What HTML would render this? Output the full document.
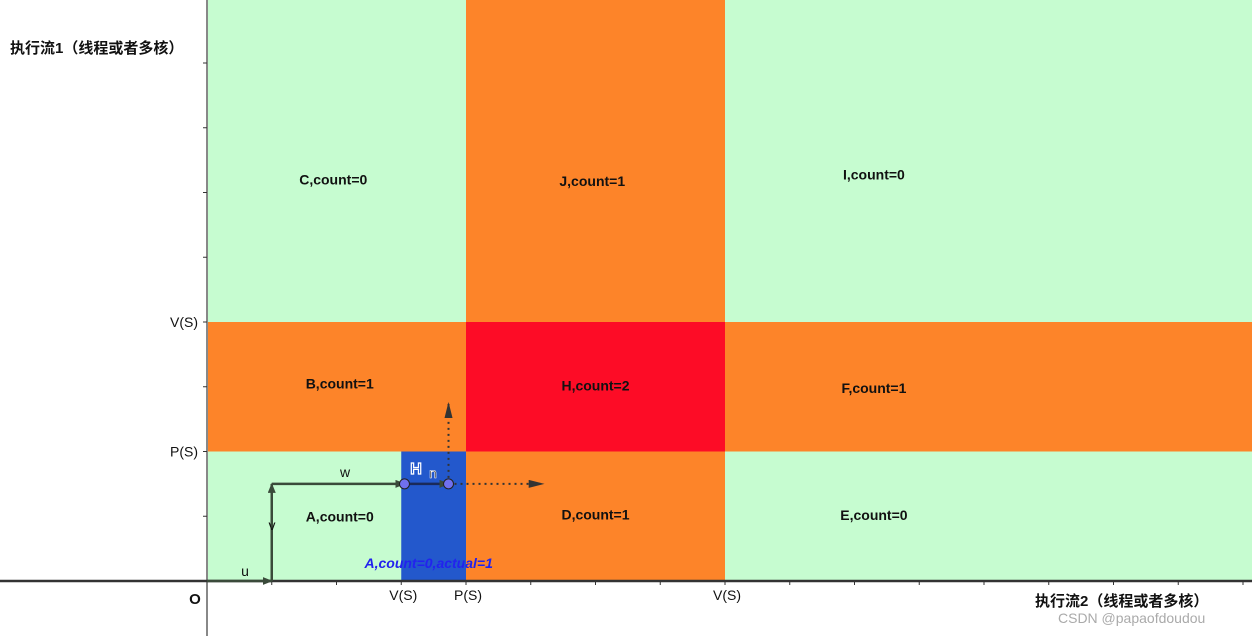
<!DOCTYPE html>
<html><head><meta charset="utf-8"><style>
html,body{margin:0;padding:0;background:#fff;}
svg{display:block;font-family:"Liberation Sans","Noto Sans CJK SC",sans-serif;}
</style></head><body>
<svg id="c" width="1252" height="636" viewBox="0 0 1252 636">
<defs>
<marker id="ah" markerWidth="10" markerHeight="8" refX="9" refY="4" orient="auto" markerUnits="userSpaceOnUse"><path d="M0,0 L10,4 L0,8 Z" fill="#3a4a3a"/></marker>
<marker id="ahd" markerWidth="16" markerHeight="8" refX="15" refY="4" orient="auto" markerUnits="userSpaceOnUse"><path d="M0,0 L16,4 L0,8 Z" fill="#333"/></marker>
</defs>
<g id="regions"></g>
<g id="labels"></g>
<g id="axes"></g>
<g id="vectors"></g>
</svg>
<script>
const regionNames=['A','B','C','D','H','J','E','F','I'];
const regionX0=[0,0,0,4,4,4,8,8,8];
const regionX1=[4,4,20,8,8,8,20,20,20];
const regionY0=[0,2,4,0,2,4,0,2,4];
const regionY1=[2,4,20,2,4,20,2,4,20];
const regionCounts=[0,1,0,1,2,1,0,1,0];
const labelX=[2.05,2.05,1.95,6.0,6.0,5.95,10.3,10.3,10.3];
const labelY=[1.0,3.05,6.2,1.03,3.02,6.18,1.02,2.98,6.28];
const O=[207,581],U=64.75;
const X=u=>O[0]+u*U, Y=v=>O[1]-v*U;
const colors=['#c6fcd0','#fd8429','#fd0c26'];
const NS='http://www.w3.org/2000/svg';
function mk(tag,attrs,parent,text){const e=document.createElementNS(NS,tag);for(const k in attrs)e.setAttribute(k,attrs[k]);if(text!=null)e.textContent=text;parent.appendChild(e);return e;}
const gR=document.getElementById('regions'),gL=document.getElementById('labels'),gA=document.getElementById('axes'),gV=document.getElementById('vectors');
regionNames.forEach((n,i)=>{
 const x0=X(regionX0[i]),x1=Math.min(X(regionX1[i]),1252),y0=Y(regionY1[i]),y1=Y(regionY0[i]);
 const r=mk('rect',{x:x0,y:Math.max(y0,0),width:x1-x0,height:y1-Math.max(y0,0),fill:colors[regionCounts[i]]},gR);
 
 
 const t=mk('text',{x:X(labelX[i]),y:Y(labelY[i])+5,'text-anchor':'middle','font-size':'14','font-weight':'bold',fill:'#111'},gL,n+',count='+regionCounts[i]);
 
 
});
// blue overlay
const b=mk('rect',{x:X(3),y:Y(2),width:U,height:2*U,fill:'#2358cc'},gR);


const bt=mk('text',{x:X(3.05)-40,y:Y(0.2),'font-size':'14','font-weight':'bold','font-style':'italic',fill:'#2222ee','text-anchor':'start'},gL,'A,count=0,actual=1');


// axes
const ya=mk('line',{x1:O[0],y1:0,x2:O[0],y2:636,stroke:'#888','stroke-width':2},gA);

const xa=mk('line',{x1:0,y1:O[1],x2:1252,y2:O[1],stroke:'#333','stroke-width':2.5},gA);

for(let k=1;k<=16;k++){const t=mk('line',{x1:X(k),y1:O[1],x2:X(k),y2:O[1]+4,stroke:'#333'},gA);}
for(let k=1;k<=8;k++){const t=mk('line',{x1:O[0]-4,y1:Y(k),x2:O[0],y2:Y(k),stroke:'#333'},gA);}
const xTickLabels=['V(S)','P(S)','V(S)'],xTickPos=[3,4,8];
xTickLabels.forEach((l,i)=>{const t=mk('text',{x:X(xTickPos[i])+2,y:600,'text-anchor':'middle','font-size':'14',fill:'#111'},gA,l);});
const yTickLabels=['P(S)','V(S)'],yTickPos=[2,4];
yTickLabels.forEach((l,i)=>{const t=mk('text',{x:198,y:Y(yTickPos[i])+5,'text-anchor':'end','font-size':'14',fill:'#111'},gA,l);});
let t;
t=mk('text',{x:195,y:604,'text-anchor':'middle','font-size':'15','font-weight':'bold',fill:'#111'},gA,'O');
t=mk('text',{x:10,y:53,'font-size':'15','font-weight':'bold',fill:'#111'},gA,'执行流1（线程或者多核）');
t=mk('text',{x:1035,y:606,'font-size':'15','font-weight':'bold',fill:'#111'},gA,'执行流2（线程或者多核）');
t=mk('text',{x:1058,y:623,'font-size':'14',fill:'#aaa'},gA,'CSDN @papaofdoudou');
// vectors
const vs=[[0,0,1,0,'u'],[1,0,1,1.5,'v'],[1,1.5,3.05,1.5,'w']];
vs.forEach(v=>{const l=mk('line',{x1:X(v[0]),y1:Y(v[1]),x2:X(v[2]),y2:Y(v[3]),stroke:'#3a4a3a','stroke-width':2.5,'marker-end':'url(#ah)'},gV);});
t=mk('text',{x:245,y:576,'text-anchor':'middle','font-size':'14',fill:'#111'},gV,'u');
t=mk('text',{x:272,y:530,'text-anchor':'middle','font-size':'14',fill:'#111'},gV,'v');
t=mk('text',{x:345,y:477,'text-anchor':'middle','font-size':'14',fill:'#111'},gV,'w');
let l=mk('line',{x1:X(3.05),y1:Y(1.5),x2:X(3.73),y2:Y(1.5),stroke:'#1a2a5a','stroke-width':2.5,'marker-end':'url(#ah)'},gV);
l=mk('line',{x1:X(3.73),y1:Y(1.5),x2:X(5.2),y2:Y(1.5),stroke:'#333','stroke-width':2,'stroke-dasharray':'2,4','marker-end':'url(#ahd)'},gV);
l=mk('line',{x1:X(3.73),y1:Y(1.5),x2:X(3.73),y2:Y(2.75),stroke:'#333','stroke-width':2,'stroke-dasharray':'2,4','marker-end':'url(#ahd)'},gV);
[[3.05,1.5],[3.73,1.5]].forEach(p=>{const c=mk('circle',{cx:X(p[0]),cy:Y(p[1]),r:5,fill:'#7070ee',stroke:'#222','stroke-width':1},gV);});
t=mk('text',{x:416,y:474,'text-anchor':'middle','font-size':'16','font-weight':'bold',fill:'#2358cc',stroke:'#fff','stroke-width':1.2},gV,'H');
t=mk('text',{x:433,y:478,'text-anchor':'middle','font-size':'14',fill:'#111',stroke:'#fff','stroke-width':0.6},gV,'n');
</script>
</body></html>
